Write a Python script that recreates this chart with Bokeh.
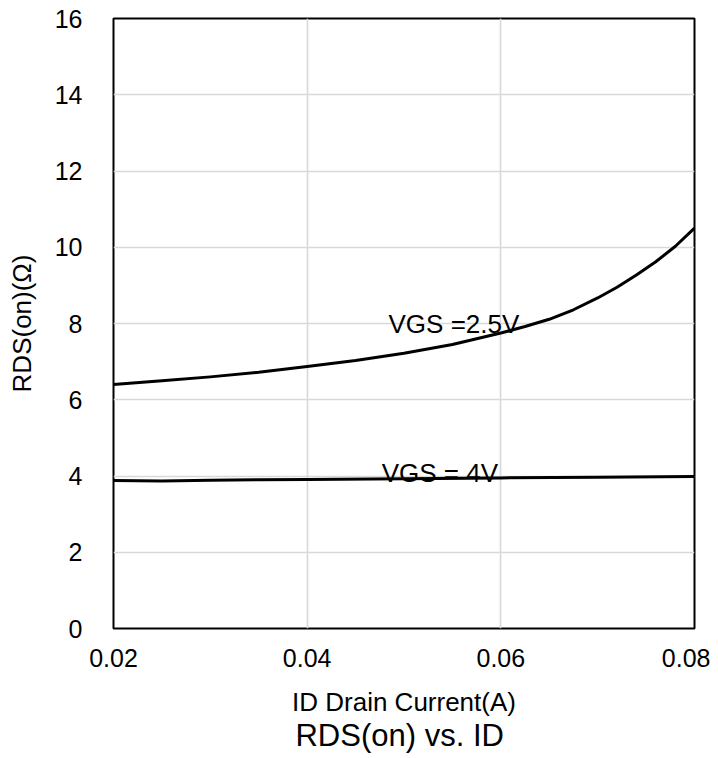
from bokeh.plotting import figure
from bokeh.models import FixedTicker, Title, ColumnDataSource
from bokeh.core.properties import value
from bokeh.embed import file_html
from bokeh.resources import INLINE

# ---- data ----
id_25 = [0.020, 0.025, 0.030, 0.035, 0.040, 0.045, 0.050, 0.055, 0.060,
         0.0625, 0.065, 0.0675, 0.070, 0.072, 0.074, 0.076, 0.078, 0.080]
rds_25 = [6.40, 6.50, 6.60, 6.72, 6.87, 7.03, 7.22, 7.45, 7.75,
          7.92, 8.11, 8.36, 8.67, 8.95, 9.27, 9.62, 10.02, 10.50]

id_4 = [0.020, 0.025, 0.030, 0.035, 0.040, 0.050, 0.060, 0.070, 0.080]
rds_4 = [3.88, 3.87, 3.89, 3.90, 3.91, 3.93, 3.95, 3.97, 3.99]

x_ticks = [0.02, 0.04, 0.06, 0.08]
y_ticks = [0, 2, 4, 6, 8, 10, 12, 14, 16]

label_25 = "VGS =2.5V"
label_4 = "VGS = 4V"
x_title = "ID Drain Current(A)"
y_title = "RDS(on)(\u03a9)"
chart_title = "RDS(on) vs.  ID"

FONT = "Liberation Sans"

p = figure(frame_width=581, frame_height=610, x_range=(0.02, 0.08), y_range=(0, 16),
           output_backend="svg", toolbar_location=None,
           min_border_left=113, min_border_right=16, min_border_top=18,
           min_border_bottom=128)

p.background_fill_color = "white"
p.border_fill_color = "white"
p.outline_line_color = "black"
p.outline_line_width = 2

p.xaxis.ticker = FixedTicker(ticks=x_ticks)
p.yaxis.ticker = FixedTicker(ticks=y_ticks)

for ax in (p.xaxis, p.yaxis):
    ax.axis_line_color = None
    ax.major_tick_line_color = None
    ax.minor_tick_line_color = None
    ax.major_tick_out = 0
    ax.major_tick_in = 0
    ax.major_label_text_font = FONT
    ax.major_label_text_font_size = "25px"
    ax.major_label_text_color = "black"
    ax.axis_label_text_font = FONT
    ax.axis_label_text_font_size = "26px"
    ax.axis_label_text_font_style = "normal"
    ax.axis_label_text_color = "black"

p.xaxis.axis_label = x_title
p.yaxis.axis_label = y_title
p.xaxis.major_label_standoff = 20
p.xaxis.axis_label_standoff = 17
p.yaxis.major_label_standoff = 31
p.yaxis.axis_label_standoff = 15

p.xgrid.ticker = FixedTicker(ticks=x_ticks)
p.ygrid.ticker = FixedTicker(ticks=y_ticks)
p.grid.grid_line_color = "#d9d9d9"
p.grid.grid_line_width = 1.7

p.line(id_25, rds_25, line_color="black", line_width=3, line_join="round")
p.line(id_4, rds_4, line_color="black", line_width=3, line_join="round")

src = ColumnDataSource(dict(x=[0.0484, 0.0477], y=[8.0, 4.09], t=[label_25, label_4]))
p.text(x="x", y="y", text="t", source=src, text_font=value(FONT),
       text_font_size="26px", text_color="black",
       text_align="left", text_baseline="alphabetic")

t = Title(text=chart_title, align="center", text_font=FONT,
          text_font_size="31px", text_font_style="normal",
          text_color="black", standoff=-8)
p.add_layout(t, "below")

open("out.html", "w").write(file_html(p, INLINE))
